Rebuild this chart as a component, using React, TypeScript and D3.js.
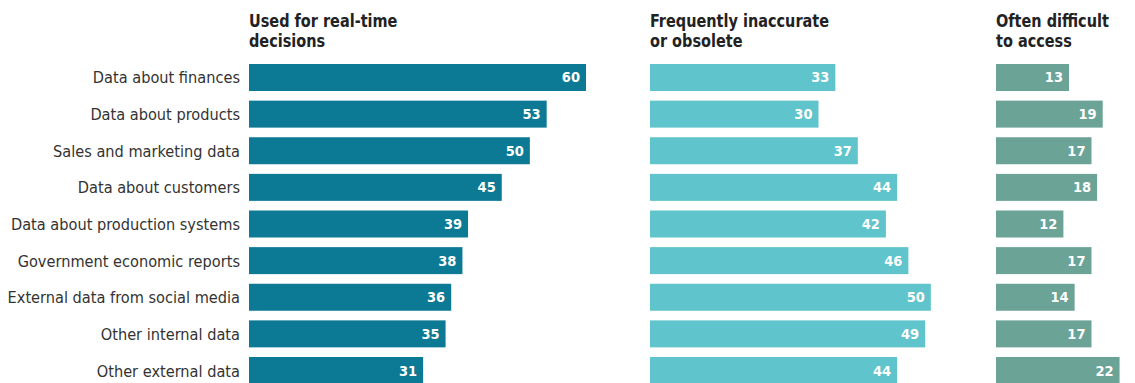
import React from "react";
import * as d3 from "d3";

const categories = [
  "Data about finances",
  "Data about products",
  "Sales and marketing data",
  "Data about customers",
  "Data about production systems",
  "Government economic reports",
  "External data from social media",
  "Other internal data",
  "Other external data",
];
const realTime = [60, 53, 50, 45, 39, 38, 36, 35, 31];
const inaccurate = [33, 30, 37, 44, 42, 46, 50, 49, 44];
const difficult = [13, 19, 17, 18, 12, 17, 14, 17, 22];
const titles = [
  ["Used for real-time", "decisions"],
  ["Frequently inaccurate", "or obsolete"],
  ["Often difficult", "to access"],
];
const colors = ["#0c7a94", "#5fc4cc", "#6ba397"];

const W = 1135;
const H = 383;
const FONT = "'DejaVu Sans Condensed', sans-serif";

export default function App() {
  const series = [realTime, inaccurate, difficult];
  const starts = [249, 650, 996];
  const x = d3.scaleLinear().domain([0, 60]).range([0, 337]);
  const y = d3
    .scaleBand<string>()
    .domain(categories)
    .range([64, 384])
    .paddingInner(0.263)
    .paddingOuter(0);
  return (
    <svg
      width={W}
      height={H}
      style={{ position: "absolute", left: 0, top: 0, background: "#fff" }}
    >
      {titles.map((t, i) => (
        <g key={i} transform={`translate(${starts[i]},0) scale(0.92,1)`}>
          <text
            x={0}
            y={27.5}
            fontFamily={FONT}
            fontWeight="bold"
            fontSize={17.5}
            fill="#222"
          >
            {t[0]}
          </text>
          <text
            x={0}
            y={47.5}
            fontFamily={FONT}
            fontWeight="bold"
            fontSize={17.5}
            fill="#222"
          >
            {t[1]}
          </text>
        </g>
      ))}
      {categories.map((c) => (
        <text
          key={c}
          x={240}
          y={(y(c) as number) + y.bandwidth() / 2 + 6}
          textAnchor="end"
          fontFamily={FONT}
          fontSize={16.2}
          fill="#333"
        >
          {c}
        </text>
      ))}
      {series.map((vals, si) =>
        vals.map((v, i) => {
          const c = categories[i];
          const y0 = y(c) as number;
          return (
            <g key={si + "-" + i}>
              <rect
                x={starts[si]}
                y={y0}
                width={x(v)}
                height={y.bandwidth()}
                fill={colors[si]}
              />
              <text
                x={starts[si] + x(v) - 6}
                y={y0 + y.bandwidth() / 2 + 5}
                textAnchor="end"
                fontFamily={FONT}
                fontWeight="bold"
                fontSize={14.5}
                fill="#fff"
              >
                {v}
              </text>
            </g>
          );
        })
      )}
    </svg>
  );
}
